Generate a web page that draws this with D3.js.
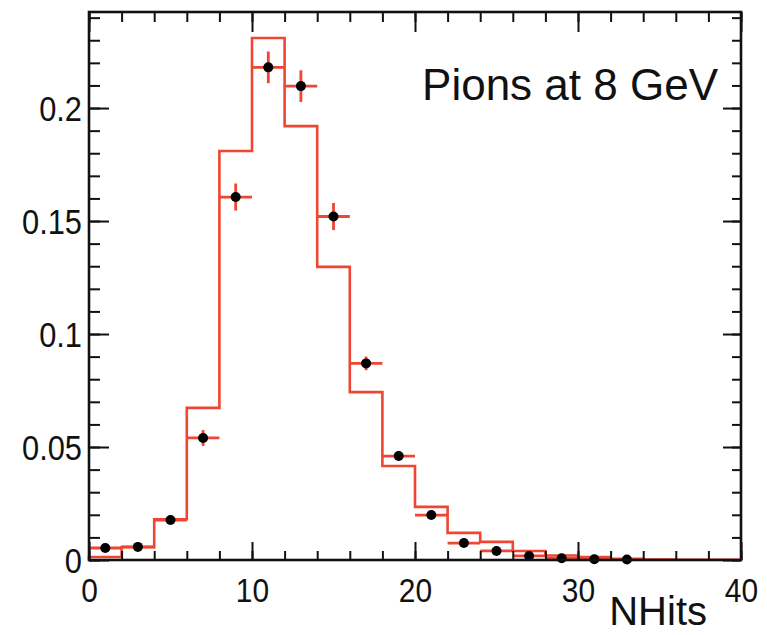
<!DOCTYPE html>
<html>
<head>
<meta charset="utf-8">
<script src="https://cdn.jsdelivr.net/npm/d3@7"></script>
<style>
  body { margin: 0; background: #fff; }
  text { font-family: "Liberation Sans", Arial, sans-serif; fill: #111; }
</style>
</head>
<body>
<svg id="chart" width="767" height="635"></svg>
<script>
// bin edges (NHits), width 2
const binEdges = [0, 2, 4, 6, 8, 10, 12, 14, 16, 18, 20, 22, 24, 26, 28, 30, 32, 34, 36, 38, 40];
// simulation histogram (red line), one value per bin
const mcValues = [0.0013, 0.0057, 0.018, 0.0673, 0.181, 0.231, 0.192, 0.1297, 0.0743, 0.0416,
                  0.0235, 0.012, 0.008, 0.004, 0.002, 0.0013, 0.0005, 0.0002, 0.0001, 0.0001];
// data points (black markers), bins 0..34
const dataValues = [0.0053, 0.0058, 0.0177, 0.054, 0.1606, 0.218, 0.2097, 0.152, 0.087, 0.046,
                    0.0199, 0.0075, 0.004, 0.0018, 0.0008, 0.0003, 0.0002];
const dataErrors = [0.0008, 0.0008, 0.0012, 0.0035, 0.006, 0.007, 0.007, 0.006, 0.003, 0.002,
                    0.0015, 0.001, 0.0008, 0.0005, 0.0003, 0.0002, 0.0002];
const xMajorTicks = [0, 10, 20, 30, 40];
const yMajorTicks = [0, 0.05, 0.1, 0.15, 0.2];
const yTickLabels = ["0", "0.05", "0.1", "0.15", "0.2"];
const title = "Pions at 8 GeV";
const xTitle = "NHits";

const red = "#ee4632";
const frameL = 89, frameR = 741, frameT = 12, frameB = 560;

const svg = d3.select("#chart");
const x = d3.scaleLinear().domain([0, 40]).range([frameL, frameR]);
const y = d3.scaleLinear().domain([0, 0.2425]).range([frameB, frameT]);

// histogram as step line
const steps = [{ x: binEdges[0], v: 0 }];
mcValues.forEach((v, i) => steps.push({ x: binEdges[i], v }));
steps.push({ x: binEdges[binEdges.length - 1], v: mcValues[mcValues.length - 1] });
const stepLine = d3.line().x(d => x(d.x)).y(d => y(d.v)).curve(d3.curveStepAfter);
svg.append("path")
  .attr("d", stepLine(steps))
  .attr("fill", "none")
  .attr("stroke", red)
  .attr("stroke-width", 2.6);

// data points with error bars
const pts = dataValues.map((v, i) => ({ lo: binEdges[i], hi: binEdges[i + 1], v, e: dataErrors[i] }));
const g = svg.append("g");
g.selectAll("line.ex").data(pts).join("line")
  .attr("class", "ex")
  .attr("x1", d => x(d.lo)).attr("x2", d => x(d.hi))
  .attr("y1", d => y(d.v)).attr("y2", d => y(d.v))
  .attr("stroke", red).attr("stroke-width", 2.8);
g.selectAll("line.ey").data(pts).join("line")
  .attr("class", "ey")
  .attr("x1", d => x((d.lo + d.hi) / 2)).attr("x2", d => x((d.lo + d.hi) / 2))
  .attr("y1", d => y(d.v - d.e)).attr("y2", d => y(d.v + d.e))
  .attr("stroke", red).attr("stroke-width", 2.8);
g.selectAll("circle").data(pts).join("circle")
  .attr("cx", d => x((d.lo + d.hi) / 2))
  .attr("cy", d => y(d.v))
  .attr("r", 5)
  .attr("fill", "#000");

// axes, ticks pointing inward
function style(a) {
  a.select(".domain").remove();
  a.selectAll("line").attr("stroke", "#111").attr("stroke-width", 2);
}
const xMinor = x.ticks(20);
const yMinor = y.ticks(25);

svg.append("g").attr("transform", `translate(0,${frameB})`)
  .call(d3.axisBottom(x).tickValues(xMinor).tickSize(-9).tickFormat("")).call(style);
svg.append("g").attr("transform", `translate(0,${frameB})`)
  .call(d3.axisBottom(x).tickValues(xMajorTicks).tickSize(-18).tickPadding(18).tickFormat(d3.format("d")))
  .call(style)
  .call(a => a.selectAll("text").attr("font-size", 34).attr("transform", "scale(0.88,1)"));
svg.append("g").attr("transform", `translate(0,${frameT})`)
  .call(d3.axisTop(x).tickValues(xMinor).tickSize(-10).tickFormat("")).call(style);
svg.append("g").attr("transform", `translate(0,${frameT})`)
  .call(d3.axisTop(x).tickValues(xMajorTicks).tickSize(-20).tickFormat("")).call(style);

svg.append("g").attr("transform", `translate(${frameL},0)`)
  .call(d3.axisLeft(y).tickValues(yMinor).tickSize(-11).tickFormat("")).call(style);
svg.append("g").attr("transform", `translate(${frameL},0)`)
  .call(d3.axisLeft(y).tickValues(yMajorTicks).tickSize(-20).tickPadding(8)
    .tickFormat((d, i) => yTickLabels[i]))
  .call(style)
  .call(a => a.selectAll("text").attr("font-size", 35).attr("dy", "0.36em")
    .attr("transform", "scale(0.88,1)"));
svg.append("g").attr("transform", `translate(${frameR},0)`)
  .call(d3.axisRight(y).tickValues(yMinor).tickSize(-9).tickFormat("")).call(style);
svg.append("g").attr("transform", `translate(${frameR},0)`)
  .call(d3.axisRight(y).tickValues(yMajorTicks).tickSize(-18).tickFormat("")).call(style);

// frame
svg.append("rect")
  .attr("x", frameL).attr("y", frameT)
  .attr("width", frameR - frameL).attr("height", frameB - frameT)
  .attr("fill", "none").attr("stroke", "#111").attr("stroke-width", 2.6);

// texts
svg.append("text")
  .attr("x", 718).attr("y", 100)
  .attr("text-anchor", "end")
  .attr("font-size", 44)
  .text(title);
svg.append("text")
  .attr("x", 707).attr("y", 625)
  .attr("text-anchor", "end")
  .attr("font-size", 40)
  .text(xTitle);
</script>
</body>
</html>
